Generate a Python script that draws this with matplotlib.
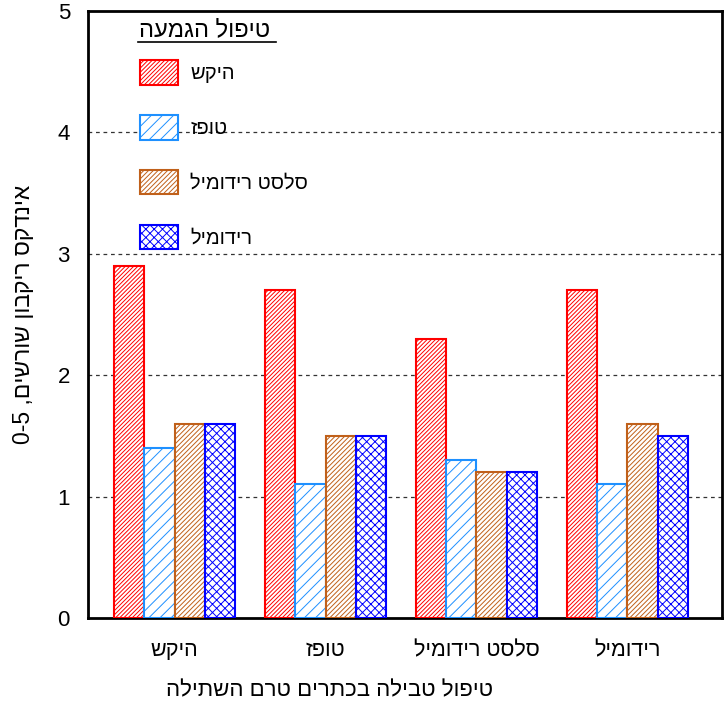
import re
import numpy as np
import matplotlib
matplotlib.use("Agg")
import matplotlib.pyplot as plt
from matplotlib.patches import Patch
from matplotlib.lines import Line2D

plt.rcParams['font.family'] = ['Liberation Sans', 'DejaVu Sans']
plt.rcParams['hatch.linewidth'] = 0.7

# data
groups = ["היקש", "טופז", "סלסט רידומיל", "רידומיל"]
series = ["היקש", "טופז", "סלסט רידומיל", "רידומיל"]
vals_hikesh = [2.9, 2.7, 2.3, 2.7]
vals_topaz = [1.4, 1.1, 1.3, 1.1]
vals_celest = [1.6, 1.5, 1.2, 1.6]
vals_ridomil = [1.6, 1.5, 1.2, 1.5]
legend_title = "טיפול הגמעה"
xlabel = "טיפול טבילה בכתרים טרם השתילה"
ylabel = "אינדקס ריקבון שורשים, 0-5"


def rtl(s):
    # matplotlib has no bidi, so flip hebrew and put number runs back
    r = s[::-1]
    return re.sub(r"[0-9][0-9\-\.]*", lambda m: m.group(0)[::-1], r)


colors = ["#FF0000", "#1E90FF", "#C0601A", "#0000FF"]
hatches = ["////////", "///", "///////", "xxxx"]
all_vals = [vals_hikesh, vals_topaz, vals_celest, vals_ridomil]

fig = plt.figure(figsize=(7.25, 7.09), dpi=100)
ax = fig.add_axes([88/725, 1-618/709, (722-88)/725, (618-11)/709])

x = np.arange(len(groups))
w = 0.2
offs = [-0.3, -0.1, 0.1, 0.3]
for v, c, h, o in zip(all_vals, colors, hatches, offs):
    ax.bar(x + o, v, w, facecolor="white", edgecolor=c, hatch=h, linewidth=1.5, zorder=3)

ax.set_xlim(-0.573, 3.626)
ax.set_ylim(0, 5)
ax.set_yticks([0, 1, 2, 3, 4, 5])
ax.set_xticks(x)
ax.set_xticklabels([rtl(g) for g in groups], fontsize=15.5)
ax.tick_params(axis='y', length=0, pad=13, labelsize=16)
ax.tick_params(axis='x', length=0, pad=16)
for yv in [1, 2, 3, 4]:
    ax.axhline(yv, color="#333333", linestyle=(0, (3, 3)), linewidth=0.9, zorder=1)
for s in ax.spines.values():
    s.set_linewidth(2)

ax.set_ylabel(rtl(ylabel), fontsize=16.5, labelpad=16)
fig.text(330/725, 1-691/709, rtl(xlabel), fontsize=16, ha="center", va="center")

handles = [Patch(facecolor="white", edgecolor=c, hatch=h, linewidth=1.5) for c, h in zip(colors, hatches)]
ax.legend(handles, [rtl(s) for s in series], loc="upper left", bbox_to_anchor=(0.082, 0.919),
          frameon=False, fontsize=14.5, handlelength=1.9, handleheight=1.5,
          labelspacing=1.5, handletextpad=0.6, borderpad=0, borderaxespad=0)

fig.text(139/725, 1-30/709, rtl(legend_title), fontsize=17, ha="left", va="center")
fig.add_artist(Line2D([138/725, 276/725], [1-42/709, 1-42/709], color="black", linewidth=1.2,
                      transform=fig.transFigure))

fig.savefig("out.png", dpi=100)
